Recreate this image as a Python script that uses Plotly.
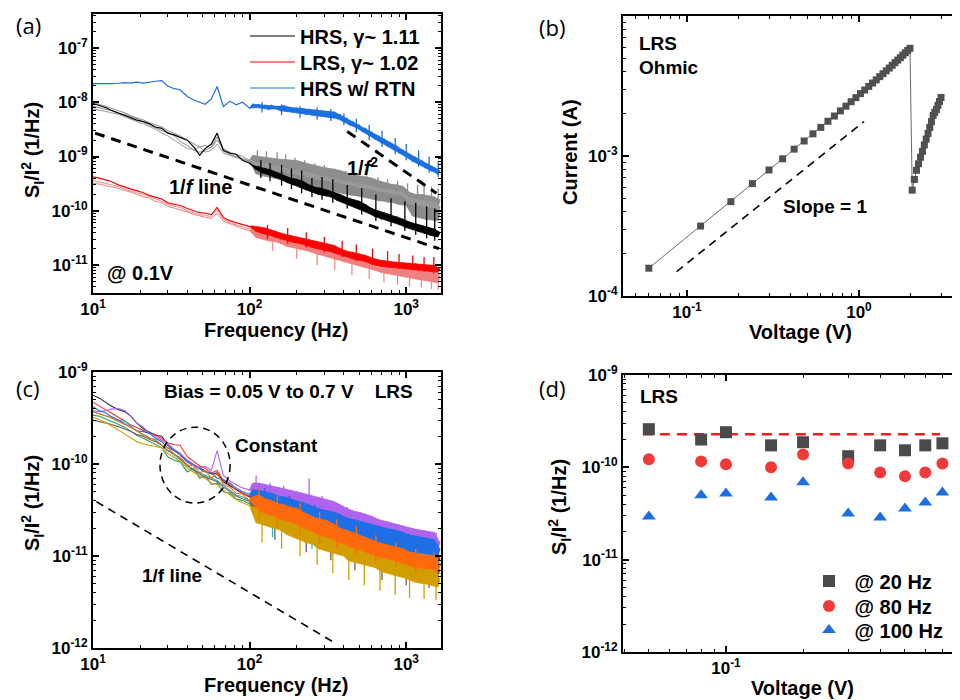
import plotly.graph_objects as go

FONT = "Liberation Sans"

# ---------------- shared frequency grid (Hz) ----------------
F_LOW = [10, 11, 12, 13, 14.5, 16, 17.5, 19, 21, 23, 25, 27.5, 30, 33, 36, 40, 44, 48, 52, 57, 62, 68, 75, 82, 90, 100]
F_HIGH = [105, 110, 115, 120, 126, 132, 138, 145, 151, 158,
          166, 174, 182, 191, 200, 209, 219, 229, 240, 251,
          263, 275, 288, 302, 316, 331, 347, 363, 380, 398,
          417, 437, 457, 479, 501, 525, 550, 575, 603, 631,
          661, 692, 724, 759, 794, 832, 871, 912, 955, 1000,
          1047, 1096, 1148, 1202, 1259, 1318, 1380, 1445, 1514, 1585,
          1640]
FREQ = F_LOW + F_HIGH

# ---------------- panel (a) spectra ----------------
# HRS w/ RTN, units 1e-10
a_blue = [220, 218, 222, 220, 224, 230, 226, 234, 226, 238, 244, 250, 200, 178, 170, 128, 110, 100, 92, 115, 195, 84, 105, 90, 100, 78] + [
    92, 80, 90, 78, 88, 74, 88, 76, 84, 70,
    86, 68, 80, 66, 78, 63, 76, 60, 74, 58,
    72, 56, 70, 54, 68, 52, 66, 50, 58, 44,
    50, 38, 44, 34, 38, 29, 33, 25, 28, 21,
    24, 18, 21, 15.5, 18, 13.5, 15.5, 11.5, 13, 9.8,
    11, 8.2, 9.6, 7.2, 8.3, 6.2, 7.2, 5.4, 6.2, 4.8,
    5.5]
a_blue_spk_f = [120, 160, 210, 270, 330, 400, 480, 580, 700, 850, 1000, 1200, 1400, 1600]
a_blue_spk_hi = [100, 92, 85, 80, 75, 62, 50, 38, 30, 22, 17, 13, 10, 8]
a_blue_spk_lo = [65, 58, 52, 48, 45, 38, 28, 20, 15, 11, 8.5, 6.5, 5, 4.2]
# HRS (black), units 1e-11
a_black = [950, 880, 800, 720, 640, 570, 530, 470, 440, 400, 350, 330, 270, 250, 225, 200, 150, 105, 140, 170, 270, 130, 115, 110, 85, 75] + [
    68, 58, 64, 50, 60, 46, 56, 42, 50, 38,
    44, 33, 40, 30, 38, 27, 35, 24, 30, 22,
    27, 20, 26, 19, 24, 18, 22, 15.5, 20, 14,
    17.5, 12.5, 16, 11.5, 15, 10, 13, 9, 11, 7.8,
    10, 7, 9.2, 6.6, 8.5, 6, 7.8, 5.5, 7, 4.9,
    6.2, 4.5, 5.8, 4.1, 5.4, 3.8, 5, 3.5, 4.6, 3.3,
    4.0]
a_black_spk_f = [118, 135, 160, 185, 215, 250, 290, 340, 420, 520, 640, 800, 980, 1150, 1350, 1520]
a_black_spk_hi = [85, 75, 70, 60, 55, 40, 42, 38, 30, 26, 20, 17, 15, 14, 12, 11]
a_black_spk_lo = [40, 35, 29, 25, 21, 18, 16, 14, 11, 8.5, 6.5, 5.2, 4.3, 3.6, 3.1, 2.8]
# HRS repeats (gray), units 1e-11
a_gray1 = [1000, 920, 860, 780, 700, 640, 560, 520, 470, 420, 390, 350, 300, 270, 240, 200, 170, 150, 160, 145, 200, 140, 120, 110, 100, 85] + [
    105, 78, 100, 72, 96, 70, 92, 66, 90, 62,
    88, 60, 86, 56, 84, 52, 78, 48, 72, 45,
    68, 42, 64, 40, 60, 38, 58, 36, 55, 33,
    50, 30, 46, 28, 44, 26, 42, 25, 40, 23,
    36, 21, 33, 20, 31, 19, 30, 17, 28, 16.5,
    22, 13, 20, 12.5, 20, 12, 19, 11.5, 18, 11,
    16]
a_gray2 = [750, 720, 680, 640, 600, 540, 480, 440, 400, 360, 320, 270, 240, 200, 170, 140, 135, 150, 120, 130, 170, 115, 105, 95, 90, 80] + [
    80, 55, 76, 52, 72, 50, 68, 48, 64, 46,
    62, 42, 58, 40, 56, 38, 52, 36, 50, 34,
    46, 32, 44, 30, 42, 29, 40, 27, 38, 26,
    35, 24, 33, 23, 31, 22, 30, 21, 29, 20,
    26, 18, 25, 17, 24, 16.5, 23, 16, 22, 15,
    17, 10.5, 16, 10, 15.5, 9.5, 15, 9, 14.5, 8.5,
    12]
a_gray3 = [850, 800, 760, 700, 620, 600, 540, 500, 430, 380, 340, 300, 280, 240, 190, 160, 130, 120, 130, 150, 230, 125, 110, 100, 92, 82] + [
    65, 48, 60, 44, 58, 42, 54, 40, 52, 38,
    50, 35, 46, 33, 45, 31, 42, 29, 40, 27,
    38, 26, 36, 25, 34, 23, 32, 22, 31, 21,
    29, 19.5, 28, 19, 26, 18, 25, 17, 24, 16,
    22, 15, 21, 14.5, 20, 14, 19, 13, 18.5, 12.5,
    13, 8, 12.5, 7.5, 12, 7, 11.5, 6.8, 11, 6.5,
    9]
a_gray_spk_f = [112, 128, 150, 170, 195, 225, 260, 300, 350, 410, 470, 560, 660, 760, 880, 1020, 1180, 1300, 1450, 1600]
a_gray_spk_hi = [130, 125, 120, 110, 95, 85, 75, 70, 60, 55, 50, 45, 42, 38, 35, 32, 30, 30, 28, 26]
a_gray_spk_lo = [60, 55, 50, 45, 40, 35, 30, 27, 24, 21, 19, 17, 15, 14, 13, 12, 11, 10, 10, 9]
# LRS (red), units 1e-12
a_red = [420, 400, 370, 350, 300, 270, 250, 235, 215, 190, 180, 165, 140, 130, 125, 110, 100, 92, 90, 85, 115, 75, 65, 60, 55, 51] + [
    52, 42, 50, 38, 48, 36, 44, 33, 40, 30,
    37, 28, 35, 26, 33, 25, 31, 23, 29, 21,
    27, 20, 26, 18.5, 24, 17.5, 23, 16, 20, 14.5,
    18, 13.5, 17, 12.5, 16, 12, 15, 11, 13.5, 10,
    12.5, 9.5, 12, 9.2, 11.5, 9, 11.2, 8.7, 11, 8.4,
    10.8, 8.2, 10.5, 8, 10.2, 7.8, 10, 7.6, 9.8, 7.4,
    8.5]
a_red_spk_f = [130, 175, 230, 300, 390, 480, 610, 760, 900, 1100, 1300, 1500]
a_red_spk_hi = [55, 48, 40, 33, 28, 24, 20, 18, 16, 15, 14, 14]
a_red_spk_lo = [30, 25, 21, 17, 14, 12, 10, 9, 8.5, 8, 7.5, 7]
# LRS repeats (light red), units 1e-12
a_lred1 = [360, 340, 320, 300, 280, 250, 235, 215, 200, 180, 165, 150, 130, 120, 115, 100, 92, 85, 82, 78, 105, 70, 60, 55, 50, 46] + [
    48, 36, 46, 33, 44, 31, 40, 29, 37, 27,
    34, 24, 32, 22.5, 30, 21, 28, 20, 26, 18.5,
    24, 17, 22, 16, 21, 15, 20, 14, 18, 12.5,
    16, 11.5, 15, 11, 14, 10, 13, 9.3, 12, 8.6,
    11, 8, 10.5, 7.6, 10, 7.2, 9.5, 6.9, 9, 6.6,
    8.8, 6.3, 8.5, 6.1, 8.2, 5.8, 8, 5.6, 7.8, 5.4,
    6.5]
a_lred2 = [320, 310, 290, 280, 260, 235, 220, 200, 180, 170, 150, 140, 120, 112, 105, 95, 86, 80, 76, 72, 90, 64, 57, 52, 47, 43] + [
    42, 32, 40, 30, 38, 28, 37, 27, 35, 25,
    31, 22, 29, 21, 28, 19.5, 26, 18.5, 24, 17,
    22, 15.5, 20, 14.5, 19, 13.5, 18, 12.5, 16.5, 11.5,
    14.5, 10.5, 13.5, 10, 12.5, 9.2, 12, 8.6, 11, 8,
    10, 7.3, 9.6, 7, 9.2, 6.6, 8.8, 6.3, 8.5, 6,
    8, 5.7, 7.8, 5.4, 7.5, 5.2, 7.2, 5, 7, 4.7,
    6]
a_lred_spk_f = [140, 200, 270, 350, 450, 580, 720, 880, 1050, 1250, 1450, 1600]
a_lred_spk_hi = [30, 22, 17, 14, 11, 9, 8, 7, 6.5, 6, 5.5, 5]
a_lred_spk_lo = [18, 13, 10, 8, 6.5, 5.5, 4.8, 4.3, 4, 3.8, 3.6, 3.5]
# guide lines (a)
a_f1_x = [10.3, 1620]
a_f1_y = [2.7e-9, 2.0e-11]
a_f2_x = [420, 1560]
a_f2_y = [2.9e-9, 2.1e-10]

# ---------------- panel (b) I-V ----------------
b_v = [0.06, 0.12, 0.18, 0.24, 0.30, 0.36, 0.42, 0.48, 0.54, 0.60, 0.66, 0.72, 0.78, 0.84, 0.90, 0.96,
       1.02, 1.08, 1.14, 1.20, 1.26, 1.32, 1.38, 1.44, 1.50, 1.56, 1.62, 1.68, 1.74, 1.80, 1.86, 1.92, 1.98,
       2.04, 2.10, 2.16, 2.22, 2.28, 2.34, 2.40, 2.46, 2.52, 2.58, 2.64, 2.70, 2.76, 2.82, 2.88, 2.94, 3.00]
b_i = [1.58e-4, 3.16e-4, 4.72e-4, 6.35e-4, 7.95e-4, 9.55e-4, 1.12e-3, 1.28e-3, 1.44e-3, 1.60e-3, 1.77e-3,
       1.93e-3, 2.10e-3, 2.27e-3, 2.44e-3, 2.61e-3, 2.79e-3, 2.96e-3, 3.14e-3, 3.32e-3, 3.50e-3, 3.69e-3,
       3.87e-3, 4.06e-3, 4.25e-3, 4.44e-3, 4.64e-3, 4.84e-3, 5.04e-3, 5.25e-3, 5.46e-3, 5.67e-3, 5.88e-3,
       5.7e-4, 6.8e-4, 7.9e-4, 8.8e-4, 9.8e-4, 1.08e-3, 1.2e-3, 1.32e-3, 1.45e-3, 1.6e-3, 1.76e-3,
       1.95e-3, 2.05e-3, 2.15e-3, 2.3e-3, 2.45e-3, 2.62e-3]
b_slope_x = [0.087, 1.07]
b_slope_y = [1.49e-4, 1.76e-3]

# ---------------- panel (c) spectra, units 1e-12 ----------------
c_black = [560, 520, 470, 430, 390, 370, 330, 280, 240, 220, 205, 200, 160, 140, 130, 108, 98, 90, 84, 78, 80, 64, 58, 52, 48, 44] + [
    46, 35, 45, 33, 43, 31, 41, 30, 39, 28,
    37, 26, 35, 25, 34, 24, 32, 22.5, 31, 21.5,
    27, 19, 26, 18.5, 25, 18, 24, 17, 22.5, 16,
    20, 14, 19, 13.5, 18.5, 13, 18, 12.5, 17, 12,
    15.5, 10.8, 15, 10.5, 14.5, 10.2, 14, 9.8, 13.5, 9.5,
    12.5, 8.8, 12.2, 8.6, 12, 8.5, 11.8, 8.4, 11.5, 8.2,
    9.5]
c_red = [470, 430, 390, 360, 320, 290, 265, 250, 230, 215, 210, 190, 170, 162, 160, 120, 105, 95, 90, 80, 85, 66, 60, 52, 48, 45] + [
    48, 36, 48, 34, 46, 32, 44, 31, 42, 30,
    40, 28, 38, 27, 36, 26, 34, 24, 33, 23,
    30, 20, 28, 19.5, 27, 19, 26, 18, 24, 17,
    22, 15, 21, 14.5, 20, 14, 19, 13.5, 18, 13,
    17, 11.5, 16, 11, 15.5, 10.8, 15, 10.5, 14.5, 10.2,
    13.5, 9.5, 13, 9.3, 12.8, 9.2, 12.5, 9, 12.3, 8.8,
    10]
c_green = [340, 330, 310, 290, 270, 250, 225, 205, 190, 175, 165, 150, 120, 110, 105, 82, 90, 70, 75, 60, 62, 50, 48, 42, 40, 37] + [
    40, 29, 40, 27, 38, 26, 36, 25, 34, 24,
    33, 22.5, 31, 21.5, 30, 20.5, 28, 19.5, 27, 18.5,
    24, 16.5, 23, 16, 22, 15.5, 21, 14.5, 20, 13.5,
    18, 12.5, 17, 12, 16.5, 11.5, 16, 11, 15, 10.5,
    14, 9.5, 13.5, 9.2, 13, 9, 12.5, 8.6, 12, 8.3,
    11, 7.5, 10.8, 7.3, 10.5, 7.1, 10.2, 7, 10, 6.8,
    8]
c_teal = [370, 350, 330, 320, 300, 290, 255, 230, 210, 195, 180, 160, 140, 125, 112, 95, 88, 80, 76, 70, 66, 58, 52, 46, 44, 40] + [
    42, 30, 41, 28, 39, 27, 37, 26, 35, 25,
    34, 23, 32, 22, 31, 21, 29, 20, 28, 19,
    25, 17, 24, 16.5, 23, 16, 22, 15, 21, 14,
    18.5, 12.8, 17.5, 12.3, 17, 11.8, 16.5, 11.3, 15.5, 10.8,
    14.5, 9.8, 14, 9.5, 13.5, 9.2, 13, 8.9, 12.5, 8.6,
    11.5, 7.8, 11.2, 7.6, 11, 7.4, 10.7, 7.2, 10.4, 7,
    8.3]
c_teal_spk_f = [140, 250, 420, 700, 1100]
c_teal_spk_hi = [30, 22, 17, 13, 10]
c_teal_spk_lo = [16, 12, 9, 7, 5.5]
c_purple = [380, 370, 380, 395, 400, 380, 330, 280, 250, 215, 200, 180, 165, 145, 130, 110, 100, 90, 95, 85, 140, 75, 65, 60, 55, 52] + [
    62, 48, 62, 45, 60, 42, 58, 40, 56, 38,
    54, 36, 52, 35, 50, 33, 48, 31, 46, 30,
    44, 28, 42, 27, 40, 26, 39, 25, 36, 23,
    33, 21, 31, 20, 30, 19, 28.5, 18.5, 27, 17.5,
    25, 16.5, 24, 16, 23, 15.5, 22, 15, 21, 14,
    20, 13, 19.5, 12.8, 19, 12.5, 18.5, 12.2, 18, 12,
    14]
c_purple_spk_f = [110, 135, 165, 200, 240, 290, 350, 420, 510, 620, 750, 900, 1100, 1300, 1550]
c_purple_spk_hi = [75, 62, 58, 50, 70, 45, 38, 34, 30, 26, 24, 22, 20, 19, 18]
c_purple_spk_lo = [40, 34, 30, 27, 24, 21, 19, 17, 15, 13.5, 12.5, 11.5, 11, 10.5, 10]
c_blue = [420, 380, 360, 330, 300, 270, 250, 230, 225, 215, 190, 175, 150, 140, 125, 105, 95, 88, 82, 80, 70, 68, 62, 55, 50, 47] + [
    52, 38, 52, 36, 50, 34, 48, 33, 45, 31,
    44, 29, 42, 28, 40, 27, 38, 25, 36, 24,
    34, 22, 32, 21, 31, 20, 30, 19.5, 28, 18.5,
    26, 17, 25, 16.5, 24, 16, 23, 15, 22, 14.5,
    21, 13.5, 20, 13, 19.5, 12.5, 19, 12, 18, 11.5,
    17, 11, 16.5, 10.8, 16, 10.5, 15.5, 10.3, 15, 10,
    12]
c_blue_spk_f = [125, 180, 260, 380, 560, 820, 1200, 1450]
c_blue_spk_hi = [55, 45, 36, 28, 23, 19, 16, 15]
c_blue_spk_lo = [30, 24, 19, 15, 12, 10, 9, 8.5]
c_brown = [300, 290, 280, 270, 255, 240, 225, 210, 200, 185, 175, 160, 140, 128, 115, 96, 85, 78, 72, 68, 64, 56, 50, 45, 42, 39] + [
    38, 27, 38, 26, 36, 25, 34, 24, 32, 23,
    31, 21, 29, 20, 28, 19, 26, 18, 25, 17,
    22, 15, 21, 14.5, 20, 14, 19, 13, 18, 12.5,
    16.5, 11, 16, 10.5, 15, 10, 14.5, 9.7, 14, 9.3,
    12.5, 8.5, 12, 8.2, 11.5, 8, 11, 7.7, 10.5, 7.4,
    9.8, 6.7, 9.5, 6.5, 9.2, 6.3, 9, 6.1, 8.8, 6,
    7]
c_brown_spk_f = [145, 230, 330, 470, 700, 1000, 1400]
c_brown_spk_hi = [30, 22, 17, 13, 10, 8.5, 7.5]
c_brown_spk_lo = [15, 11, 9, 7, 5.5, 4.8, 4.5]
c_gold = [320, 305, 285, 260, 235, 210, 190, 175, 165, 160, 155, 150, 130, 118, 108, 90, 82, 74, 70, 62, 60, 52, 46, 41, 38, 35] + [
    34, 23, 34, 22, 32, 21, 30, 20, 28, 19,
    27, 17, 25, 16, 24, 15, 22, 14, 21, 13.5,
    19, 12, 18, 11.5, 17, 11, 16, 10.5, 15, 10,
    14, 8.8, 13.5, 8.5, 13, 8.2, 12.5, 7.8, 12, 7.5,
    11, 6.8, 10.5, 6.5, 10, 6.2, 9.6, 6, 9.3, 5.7,
    8.7, 5.3, 8.5, 5.1, 8.3, 5, 8, 4.8, 7.8, 4.6,
    5.5]
c_gold_spk_f = [120, 160, 210, 270, 340, 430, 540, 680, 850, 1050, 1300, 1550]
c_gold_spk_hi = [30, 25, 21, 17, 14, 12, 10, 9, 8, 7, 6.5, 6]
c_gold_spk_lo = [14, 12, 10, 8, 6.5, 5.5, 4.8, 4.2, 3.8, 3.5, 3.4, 3.3]
c_orange = [370, 350, 330, 320, 290, 270, 250, 230, 205, 190, 185, 160, 150, 128, 118, 98, 95, 80, 85, 70, 78, 60, 56, 48, 47, 40] + [
    44, 34, 46, 30, 42, 28, 40, 27, 37, 25,
    36, 24, 34, 23, 33, 21, 30, 20, 28, 18.5,
    26, 17, 25, 16.5, 24, 15.5, 22, 14.5, 20, 13.5,
    19, 12.5, 18, 12, 17, 11.5, 16, 10.8, 15, 10.2,
    14, 9.6, 13.5, 9.3, 13, 9, 12.5, 8.6, 12, 8.2,
    11, 7.6, 10.7, 7.4, 10.4, 7.3, 10.2, 7.2, 10, 7,
    8]
c_orange_spk_f = [115, 150, 210, 280, 360, 480, 640, 860, 1150, 1500]
c_orange_spk_hi = [55, 45, 38, 30, 25, 21, 17, 14, 12, 11]
c_orange_spk_lo = [25, 21, 17, 14, 12, 10, 8.5, 7.5, 6.5, 6]
c_f1_x = [10.5, 340]
c_f1_y = [3.9e-11, 1.17e-12]

# ---------------- panel (d) ----------------
d_v = [0.05, 0.08, 0.1, 0.15, 0.2, 0.3, 0.4, 0.5, 0.6, 0.7]
d_20hz = [2.59e-10, 2.0e-10, 2.4e-10, 1.73e-10, 1.87e-10, 1.32e-10, 1.73e-10, 1.53e-10, 1.73e-10, 1.82e-10]
d_80hz = [1.22e-10, 1.16e-10, 1.08e-10, 1.0e-10, 1.38e-10, 1.1e-10, 0.88e-10, 0.8e-10, 0.88e-10, 1.1e-10]
d_100hz = [2.93e-11, 4.97e-11, 5.2e-11, 4.7e-11, 6.9e-11, 3.16e-11, 2.86e-11, 3.58e-11, 4.17e-11, 5.35e-11]
d_ref_x = [0.0474, 0.685]
d_ref_y = [2.28e-10, 2.28e-10]

# ---------------- figure ----------------
fig = go.Figure()
NL = len(F_LOW)


def scaled(vals, unit):
    return [v * unit for v in vals]


def line(x, y, color, xa, ya, width=1.0, name=None, legend=None, dash=None):
    fig.add_trace(go.Scatter(
        x=x, y=y, mode="lines", xaxis=xa, yaxis=ya,
        line=dict(color=color, width=width, dash=dash),
        name=name, showlegend=name is not None,
        legend=legend, hoverinfo="skip"))


def spectrum(vals, unit, color, xa, ya, width=1.0, name=None, legend=None, spikes=None):
    """Low-frequency part drawn as a line; dense high-frequency noise as a band
    between its upper (even) and lower (odd) readings, plus isolated spikes."""
    high = vals[NL:]
    px = [F_LOW[-1]] + F_HIGH[0::2] + F_HIGH[1::2][::-1] + [F_LOW[-1]]
    py = [vals[NL - 1]] + high[0::2] + high[1::2][::-1] + [vals[NL - 1]]
    fig.add_trace(go.Scatter(x=px, y=scaled(py, unit), mode="lines", fill="toself",
                             fillcolor=color, line=dict(color=color, width=0.8),
                             xaxis=xa, yaxis=ya, showlegend=False, hoverinfo="skip"))
    line(FREQ, scaled(vals, unit), color, xa, ya, width=width, name=name, legend=legend)
    if spikes:
        sf, shi, slo = spikes
        sx, sy = [], []
        for f, hi, lo in zip(sf, shi, slo):
            sx += [f, f, None]
            sy += [lo * unit, hi * unit, None]
        fig.add_trace(go.Scatter(x=sx, y=sy, mode="lines", line=dict(color=color, width=1.3),
                                 xaxis=xa, yaxis=ya, showlegend=False, hoverinfo="skip"))


# (a)
spectrum(a_gray1, 1e-11, "#8e8e8e", "x", "y", spikes=(a_gray_spk_f, a_gray_spk_hi, a_gray_spk_lo))
spectrum(a_gray2, 1e-11, "#999999", "x", "y")
spectrum(a_gray3, 1e-11, "#8a8a8a", "x", "y")
spectrum(a_black, 1e-11, "#000000", "x", "y", width=1.2, name="HRS, γ~ 1.11", legend="legend",
         spikes=(a_black_spk_f, a_black_spk_hi, a_black_spk_lo))
spectrum(a_lred1, 1e-12, "#f38a8a", "x", "y", spikes=(a_lred_spk_f, a_lred_spk_hi, a_lred_spk_lo))
spectrum(a_lred2, 1e-12, "#f08080", "x", "y")
spectrum(a_red, 1e-12, "#ff0000", "x", "y", width=1.2, name="LRS, γ~ 1.02", legend="legend2",
         spikes=(a_red_spk_f, a_red_spk_hi, a_red_spk_lo))
spectrum(a_blue, 1e-10, "#1c6fe0", "x", "y", width=1.2, name="HRS w/ RTN", legend="legend3",
         spikes=(a_blue_spk_f, a_blue_spk_hi, a_blue_spk_lo))
line(a_f1_x, a_f1_y, "black", "x", "y", width=3, dash="10px,7px")
line(a_f2_x, a_f2_y, "black", "x", "y", width=3, dash="10px,7px")

# (b)
fig.add_trace(go.Scatter(x=b_v, y=b_i, mode="lines+markers", xaxis="x2", yaxis="y2",
                         line=dict(color="#6a6a6a", width=1),
                         marker=dict(symbol="square", size=7, color="#505050"),
                         showlegend=False, hoverinfo="skip"))
line(b_slope_x, b_slope_y, "black", "x2", "y2", width=1.6, dash="8px,6px")

# (c)
c_series = [(c_black, "#2a2a2a", None),
            (c_red, "#ff2e2e", None),
            (c_green, "#22a35a", None),
            (c_teal, "#1fc2b4", (c_teal_spk_f, c_teal_spk_hi, c_teal_spk_lo)),
            (c_purple, "#b064ee", (c_purple_spk_f, c_purple_spk_hi, c_purple_spk_lo)),
            (c_blue, "#1f6fe5", (c_blue_spk_f, c_blue_spk_hi, c_blue_spk_lo)),
            (c_brown, "#7b5a60", (c_brown_spk_f, c_brown_spk_hi, c_brown_spk_lo)),
            (c_gold, "#d29e00", (c_gold_spk_f, c_gold_spk_hi, c_gold_spk_lo)),
            (c_orange, "#ff6a0d", (c_orange_spk_f, c_orange_spk_hi, c_orange_spk_lo))]
for vals, col, spk in c_series:
    spectrum(vals, 1e-12, col, "x3", "y3", width=1.1, spikes=spk)
line(c_f1_x, c_f1_y, "black", "x3", "y3", width=1.6, dash="8px,6px")

# (d)
line(d_ref_x, d_ref_y, "#ff1a1a", "x4", "y4", width=2.5, dash="10px,7px")
for vals, sym, col, nm, lg in [(d_20hz, "square", "#4a4a4a", "\u00a0@ 20 Hz", "legend4"),
                               (d_80hz, "circle", "#f03a3a", "\u00a0@ 80 Hz", "legend5"),
                               (d_100hz, "triangle-up", "#1c6fe0", "\u00a0@ 100 Hz", "legend6")]:
    fig.add_trace(go.Scatter(x=d_v, y=vals, mode="markers", xaxis="x4", yaxis="y4",
                             marker=dict(symbol=sym, size=12, color=col, line=dict(width=0)),
                             name=nm, legend=lg, hoverinfo="skip"))

# ---------------- axes ----------------
tickfont = dict(family=FONT, size=17, color="black", weight="bold")

OFF = 8  # page offset of the plot div (body margin)
W, H = 960, 700


def fx(p):
    return (p - OFF) / W


def fy(p):
    return 1 - (p - OFF) / H


def ax(domain, rng, anchor, tickvals, ticktext, mirror="allticks"):
    return dict(type="log", domain=domain, range=rng, anchor=anchor, automargin=False,
                showline=True, linewidth=2, linecolor="black", mirror=mirror,
                ticks="inside", ticklen=6, tickwidth=1.5, tickcolor="black",
                tickmode="array", tickvals=tickvals, ticktext=ticktext,
                showgrid=False, zeroline=False, tickfont=tickfont,
                minor=dict(ticks="inside", ticklen=3, tickwidth=1, tickcolor="black",
                           dtick="D1", showgrid=False))


def p10(e):
    return "10<sup>%d</sup>" % e


A_X = [fx(93), fx(441)]
A_Y = [fy(293), fy(14)]
B_X = [fx(623), 1.0]
B_Y = [fy(296), fy(16)]
C_X = [fx(93), fx(441)]
C_Y = [fy(648), fy(372)]
D_X = [fx(623), 1.0]
D_Y = [fy(652), fy(375)]

freq_ticks = [10, 100, 1000]
freq_text = [p10(1), p10(2), p10(3)]

LEG_FONT = dict(family=FONT, size=20, weight="bold", color="black")


def leg(x, y, itemwidth=30):
    return dict(x=fx(x), y=fy(y), xanchor="left", yanchor="middle",
                bgcolor="rgba(0,0,0,0)", borderwidth=0, itemwidth=itemwidth, font=LEG_FONT)


fig.update_layout(
    width=960, height=700, margin=dict(l=0, r=0, t=0, b=0, autoexpand=False),
    paper_bgcolor="white", plot_bgcolor="white",
    font=dict(family=FONT, color="black"),
    xaxis=ax(A_X, [1, 3.222], "y", freq_ticks, freq_text),
    yaxis=ax(A_Y, [-11.516, -6.373], "x", [1e-11, 1e-10, 1e-9, 1e-8, 1e-7],
             [p10(-11), p10(-10), p10(-9), p10(-8), p10(-7)]),
    xaxis2=ax(B_X, [-1.372, 0.634], "y2", [0.1, 1], [p10(-1), p10(0)]),
    yaxis2=ax(B_Y, [-4, -2], "x2", [1e-4, 1e-3, 1e-2], [p10(-4), p10(-3), p10(-2)], mirror=False),
    xaxis3=ax(C_X, [1, 3.222], "y3", freq_ticks, freq_text),
    yaxis3=ax(C_Y, [-12, -9], "x3", [1e-12, 1e-11, 1e-10, 1e-9],
              [p10(-12), p10(-11), p10(-10), p10(-9)]),
    xaxis4=ax(D_X, [-1.402, -0.055], "y4", [0.1], [p10(-1)]),
    yaxis4=ax(D_Y, [-12, -9], "x4", [1e-12, 1e-11, 1e-10, 1e-9],
              [p10(-12), p10(-11), p10(-10), p10(-9)], mirror=False),
    legend=leg(245, 36, 45),
    legend2=leg(245, 62, 45),
    legend3=leg(245, 88, 45),
    legend4=leg(809, 581),
    legend5=leg(809, 606),
    legend6=leg(809, 630),
)

# dashed circle ("Constant") in (c)
fig.add_shape(type="circle", xref="x3 domain", yref="y3 domain",
              x0=0.1925, x1=0.394, y0=0.525, y1=0.80,
              line=dict(color="black", width=1.5, dash="7px,5px"))


# ---------------- text ----------------
def txt(s, x, y, size=20, bold=True, angle=0, xanchor="center", family=FONT):
    fig.add_annotation(text=s, x=fx(x), y=fy(y), xref="paper", yref="paper",
                       showarrow=False, textangle=angle, xanchor=xanchor, yanchor="middle",
                       font=dict(family=family, size=size, color="black",
                                 weight="bold" if bold else "normal"))


# axis titles
txt("Frequency (Hz)", 276, 330)
txt("S<sub>I</sub>/I<sup>2</sup> (1/Hz)", 32, 150, angle=-90)
txt("Voltage (V)", 800, 332)
txt("Current (A)", 570, 152, angle=-90)
txt("Frequency (Hz)", 276, 685)
txt("S<sub>I</sub>/I<sup>2</sup> (1/Hz)", 32, 503, angle=-90)
txt("Voltage (V)", 802, 688)
txt("S<sub>I</sub>/I<sup>2</sup> (1/Hz)", 559, 507, angle=-90)

# panel labels
for lab, x, y in [("(a)", 28, 25), ("(b)", 552, 27), ("(c)", 28, 388), ("(d)", 552, 388)]:
    txt(lab, x, y, size=22, bold=False, family="Open Sans")

# annotations (a)
txt("1/<i>f</i> line", 200, 187)
txt("1/<i>f</i><sup>2</sup>", 362, 166)
txt("@ 0.1V", 105, 273, xanchor="left")
# (b)
txt("LRS", 637, 43, size=19, xanchor="left")
txt("Ohmic", 637, 67, size=19, xanchor="left")
txt("Slope = 1", 825, 207, size=19)
# (c)
txt("Bias = 0.05 V to 0.7 V    LRS", 288, 391, size=19)
txt("Constant", 276, 446, size=19)
txt("1/f line", 172, 575, size=19)
# (d)
txt("LRS", 638, 396, size=19, xanchor="left")

fig.write_html("out.html")
